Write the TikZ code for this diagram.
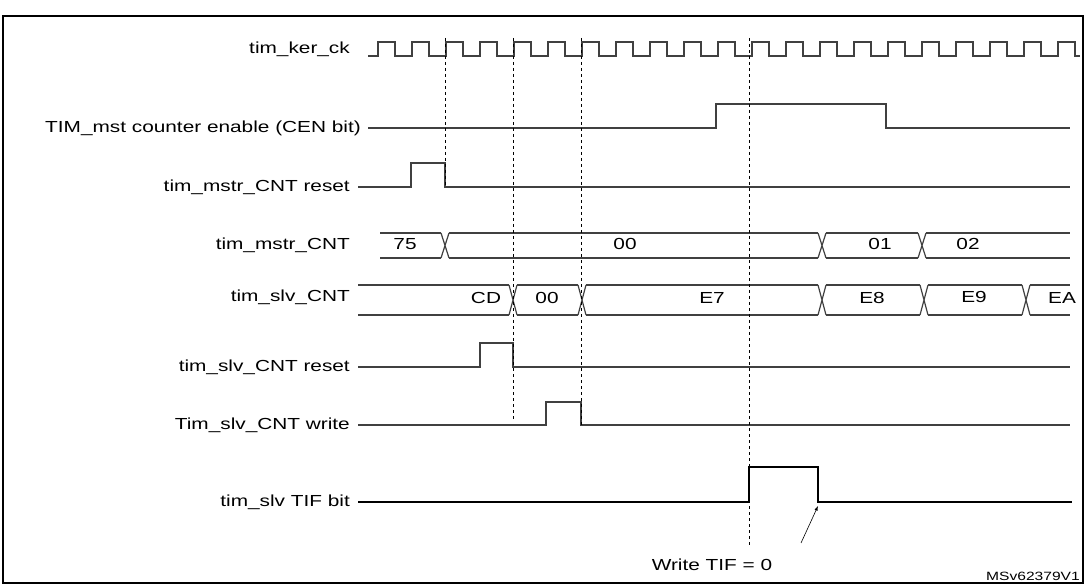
\documentclass[tikz,border=0pt]{standalone}
\usepackage{fontspec}
\setmainfont{Liberation Sans}[FakeStretch=1.3]
\usetikzlibrary{positioning}

% Define signal and label styles
\tikzset{
  sig/.style={draw=black!75, line width=1.2pt},
  guide/.style={draw=black, dashed, thin},
  siglabel/.style={anchor=east, inner sep=0pt, font=\fontsize{16}{19}\selectfont},
  buslabel/.style={inner sep=0pt, font=\fontsize{16}{19}\selectfont}
}
% X crossing of a bus at x, between top and bottom
\newcommand{\busx}[3]{%
  \draw[sig] (#1-4,#2) -- (#1+4,#3) (#1-4,#3) -- (#1+4,#2);}

\begin{document}
\begin{tikzpicture}[x=1pt,y=-1pt]
\useasboundingbox (0,0) rectangle (1087,585);
\draw[line width=1.5pt] (3,16) rectangle (1083,583);

% signal names
\node[siglabel] (lck)  at (350,49)  {tim\_ker\_ck};
\node[siglabel] (lcen) at (361,128) {TIM\_mst counter enable (CEN bit)};
\node[siglabel] (lmr)  at (350,187) {tim\_mstr\_CNT reset};
\node[siglabel] (lmc)  at (350,245) {tim\_mstr\_CNT};
\node[siglabel] (lsc)  at (350,297) {tim\_slv\_CNT};
\node[siglabel] (lsr)  at (350,367) {tim\_slv\_CNT reset};
\node[siglabel] (lsw)  at (350,425) {Tim\_slv\_CNT write};
\node[siglabel] (lst)  at (350,502) {tim\_slv TIF bit};

% clock
\draw[sig] (368,56) -- (378,56)
  \foreach \k in {0,...,19} { -- (378+34*\k,56) -- (378+34*\k,42) -- (395+34*\k,42) -- (395+34*\k,56) -- (412+34*\k,56) }
  -- (1058,56) -- (1058,42) -- (1075,42) -- (1075,56) -- (1080,56);

% CEN bit
\draw[sig] (368,128) -- (716,128) -- (716,104) -- (886,104) -- (886,128) -- (1070,128);
% master reset
\draw[sig] (358,187) -- (411,187) -- (411,163) -- (445,163) -- (445,187) -- (1070,187);

% master counter bus
\draw[sig] (380,233) -- (441,233) (449,233) -- (818,233) (826,233) -- (918,233) (926,233) -- (1070,233);
\draw[sig] (380,258) -- (441,258) (449,258) -- (818,258) (826,258) -- (918,258) (926,258) -- (1070,258);
\busx{445}{233}{258}
\busx{822}{233}{258}
\busx{922}{233}{258}
\node[buslabel] (m75) at (405,244) {75};
\node[buslabel] (m00) at (625,244) {00};
\node[buslabel] (m01) at (880,244) {01};
\node[buslabel] (m02) at (968,244) {02};

% slave counter bus
\draw[sig] (358,285) -- (509,285) (517,285) -- (578,285) (586,285) -- (818,285) (826,285) -- (920,285) (928,285) -- (1022,285) (1030,285) -- (1070,285);
\draw[sig] (358,315) -- (509,315) (517,315) -- (578,315) (586,315) -- (818,315) (826,315) -- (920,315) (928,315) -- (1022,315) (1030,315) -- (1070,315);
\busx{513}{285}{315}
\busx{582}{285}{315}
\busx{822}{285}{315}
\busx{924}{285}{315}
\busx{1026}{285}{315}
\node[buslabel] (sCD) at (486,298) {CD};
\node[buslabel] (s00) at (547,298) {00};
\node[buslabel] (sE7) at (712,298) {E7};
\node[buslabel] (sE8) at (872,298) {E8};
\node[buslabel] (sE9) at (974,297) {E9};
\node[buslabel] (sEA) at (1062,298) {EA};

% slave reset, write, TIF
\draw[sig] (358,367) -- (480,367) -- (480,343) -- (513,343) -- (513,367) -- (1070,367);
\draw[sig] (358,425) -- (546,425) -- (546,402) -- (581,402) -- (581,425) -- (1070,425);
\draw[sig, draw=black] (358,502) -- (749,502) -- (749,467) -- (818,467) -- (818,502) -- (1072,502);

% guides
\draw[guide] (445,38) -- (445,185);
\draw[guide] (513,38) -- (513,420);
\draw[guide] (581,38) -- (581,425);
\draw[guide] (749,38) -- (749,545);

% annotation
\node[buslabel] (wtif) at (712,565) {Write TIF = 0};
\coordinate (tif) at (818,506);
\draw[-latex, semithick] (801,543) -- (tif);
\node[anchor=south east, inner sep=1pt, font=\fontsize{12}{14}\selectfont] (ref) at (1081,582) {MSv62379V1};
\end{tikzpicture}
\end{document}
